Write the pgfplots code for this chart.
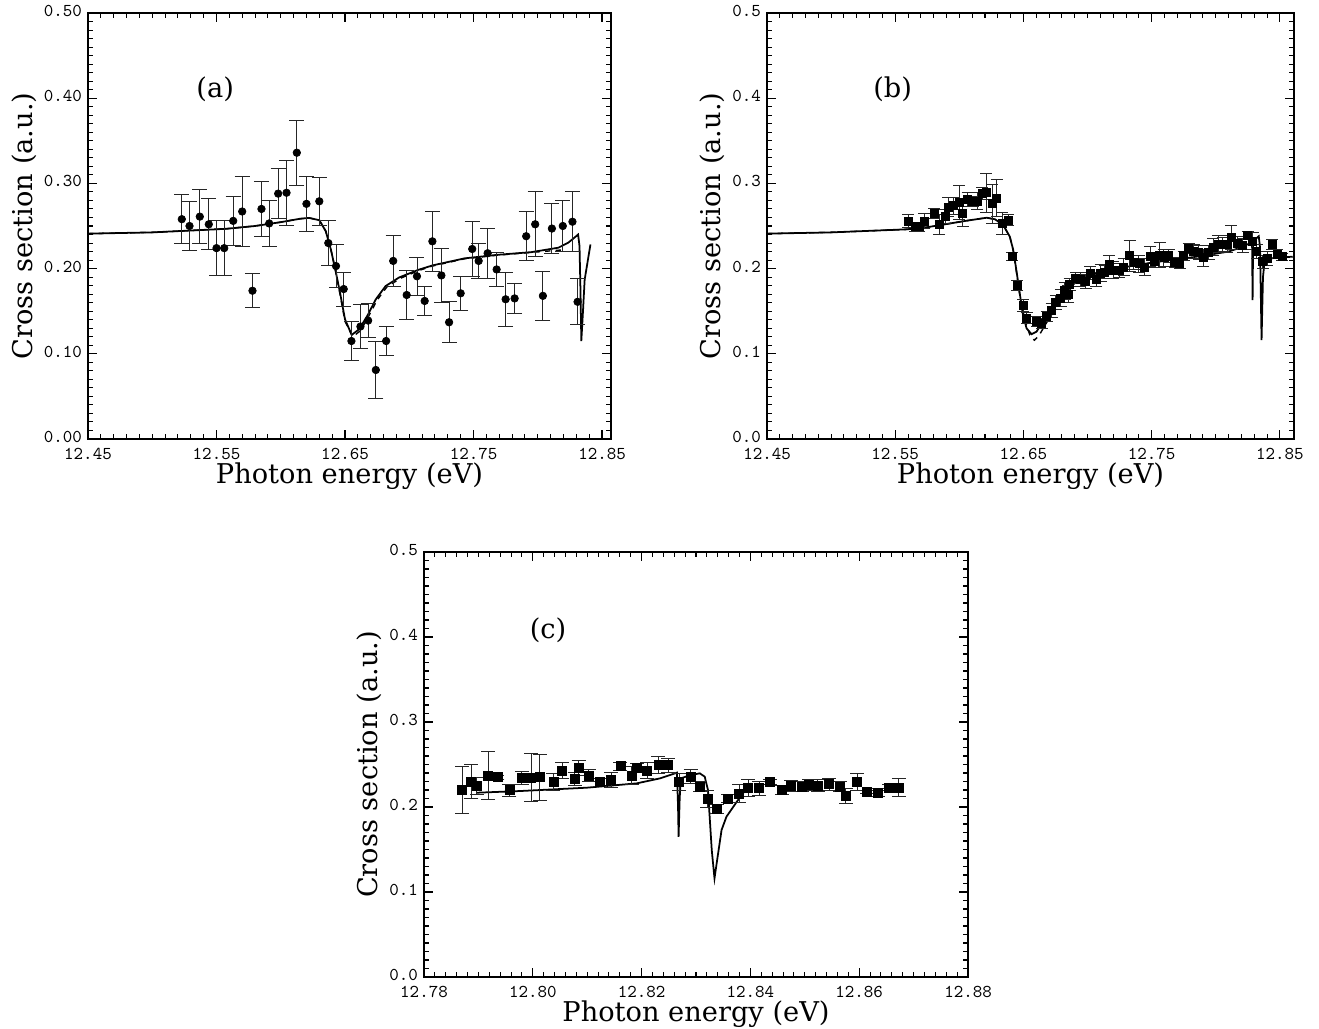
\documentclass[border=0pt]{standalone}
\usepackage{fontspec}
\usepackage{pgfplots}
\pgfplotsset{compat=1.18}

\newfontfamily\lblserif{DejaVu Serif}
\newcommand\lblfont{\fontsize{15.5}{18}\selectfont\lblserif}
\newcommand\tickfont{\fontsize{10.3}{12}\selectfont\ttfamily\addfontfeatures{FakeBold=2.5}}
\newcommand\panelfont{\fontsize{15.5}{18}\selectfont\lblserif}

\pgfplotsset{
  panel/.style={
    scale only axis,
    anchor=south west,
    ymin=0, ymax=0.5,
    minor y tick num=9,
    tick align=inside,
    xtick pos=both, ytick pos=both,
    xticklabel pos=lower, yticklabel pos=left,
    major tick length=0.18cm,
    minor tick length=0.1cm,
    axis line style={line width=0.9pt},
    every tick/.style={black, line width=0.6pt},
    tick label style={font=\tickfont, inner sep=0.5pt},
    xticklabel style={yshift=-0.16cm},
    yticklabel style={xshift=-0.1cm, yshift=0.04cm},
    label style={font=\lblfont},
    xlabel style={yshift=0.08cm},
    xlabel={Photon energy (eV)},
    ylabel={Cross section (a.u.)},
    scaled x ticks=false, scaled y ticks=false,
    xticklabel style={/pgf/number format/.cd, fixed, fixed zerofill, precision=2},
    /pgf/number format/assume math mode=true,
  },
  curve/.style={black, line width=1pt, no marks},
  dcurve/.style={black, line width=0.8pt, dashed, no marks},
  pts/.style={only marks, black,
    error bars/y dir=both, error bars/y explicit,
    error bars/error bar style={line width=0.5pt, black!85},
    error bars/error mark options={rotate=90, line width=0.5pt, black!85, mark size=#1}},
}

\begin{document}
\begin{tikzpicture}
\path[use as bounding box] (0,0) rectangle (26.38cm,20.58cm);

% ---------------- (a)
\begin{axis}[panel, at={(1.76cm,11.80cm)}, width=10.46cm, height=8.52cm,
  xmin=12.45, xmax=12.857,
  xtick={12.45,12.55,12.65,12.75,12.85}, minor x tick num=9,
  ytick={0,0.1,0.2,0.3,0.4,0.5},
  yticklabel style={/pgf/number format/.cd, fixed, fixed zerofill, precision=2}]
\addplot[curve] coordinates {
(12.45,0.241) (12.50,0.2425) (12.5575,0.2467) (12.58,0.250) (12.60,0.2545)
(12.615,0.2585) (12.622,0.2595) (12.63,0.2568) (12.635,0.244) (12.639,0.2225)
(12.643,0.195) (12.6466,0.168) (12.650,0.1405) (12.6552,0.1222) (12.661,0.1288)
(12.6673,0.1444) (12.674,0.164) (12.6816,0.1795) (12.692,0.1895) (12.707,0.1985)
(12.718,0.2037) (12.743,0.212) (12.769,0.2162) (12.795,0.2193) (12.816,0.2245)
(12.8236,0.2303) (12.8283,0.236) (12.8314,0.240) (12.8325,0.2263) (12.8333,0.17)
(12.8339,0.115) (12.8352,0.150) (12.8365,0.187) (12.841,0.2283)};
\addplot[dcurve] coordinates {
(12.45,0.241) (12.50,0.2425) (12.5575,0.2467) (12.58,0.250) (12.60,0.2545)
(12.615,0.2585) (12.622,0.2595) (12.63,0.2568) (12.635,0.244) (12.639,0.2225)
(12.643,0.195) (12.6466,0.166) (12.650,0.138) (12.656,0.120) (12.662,0.127)
(12.668,0.143) (12.675,0.163) (12.6826,0.1785) (12.693,0.1885) (12.707,0.1975)
(12.718,0.2030) (12.743,0.2115) (12.769,0.2158) (12.795,0.2190) (12.82,0.2220)};
\addplot[pts=0.15cm, mark=*, mark size=0.075cm] coordinates {
(12.523,0.258) +- (0,0.029)
(12.529,0.250) +- (0,0.029)
(12.537,0.261) +- (0,0.032)
(12.544,0.252) +- (0,0.030)
(12.550,0.224) +- (0,0.032)
(12.556,0.224) +- (0,0.032)
(12.563,0.256) +- (0,0.029)
(12.570,0.267) +- (0,0.041)
(12.578,0.174) +- (0,0.020)
(12.585,0.270) +- (0,0.032)
(12.591,0.253) +- (0,0.027)
(12.598,0.288) +- (0,0.029)
(12.6045,0.289) +- (0,0.038)
(12.6125,0.336) +- (0,0.038)
(12.620,0.276) +- (0,0.032)
(12.630,0.279) +- (0,0.028)
(12.637,0.230) +- (0,0.026)
(12.643,0.203) +- (0,0.025)
(12.649,0.176) +- (0,0.020)
(12.655,0.115) +- (0,0.023)
(12.662,0.132) +- (0,0.026)
(12.668,0.139) +- (0,0.020)
(12.674,0.081) +- (0,0.033)
(12.682,0.115) +- (0,0.017)
(12.6875,0.209) +- (0,0.030)
(12.698,0.169) +- (0,0.029)
(12.706,0.191) +- (0,0.022)
(12.712,0.162) +- (0,0.017)
(12.718,0.232) +- (0,0.035)
(12.725,0.192) +- (0,0.032)
(12.731,0.137) +- (0,0.024)
(12.740,0.171) +- (0,0.020)
(12.749,0.223) +- (0,0.032)
(12.754,0.209) +- (0,0.020)
(12.761,0.218) +- (0,0.029)
(12.768,0.199) +- (0,0.020)
(12.775,0.164) +- (0,0.032)
(12.782,0.165) +- (0,0.018)
(12.791,0.238) +- (0,0.029)
(12.798,0.252) +- (0,0.038)
(12.804,0.168) +- (0,0.029)
(12.811,0.247) +- (0,0.029)
(12.8195,0.250) +- (0,0.030)
(12.827,0.255) +- (0,0.035)
(12.831,0.161) +- (0,0.027)};
\node[font=\panelfont] at (axis cs:12.549,0.41) {(a)};
\end{axis}

% ---------------- (b)
\begin{axis}[panel, at={(15.34cm,11.80cm)}, width=10.54cm, height=8.52cm,
  xmin=12.45, xmax=12.861,
  xtick={12.45,12.55,12.65,12.75,12.85}, minor x tick num=9,
  ytick={0,0.1,0.2,0.3,0.4,0.5},
  yticklabel style={/pgf/number format/.cd, fixed, fixed zerofill, precision=1}]
\addplot[curve] coordinates {
(12.45,0.241) (12.50,0.2425) (12.5593,0.2461) (12.5746,0.2485) (12.59,0.2523)
(12.6057,0.2562) (12.6213,0.2597) (12.6278,0.2579) (12.6342,0.2512) (12.6394,0.2374)
(12.642,0.222) (12.6445,0.198) (12.647,0.172) (12.6495,0.147) (12.6524,0.130)
(12.6563,0.123) (12.6602,0.126) (12.6653,0.1377) (12.6731,0.1553) (12.6835,0.1760)
(12.695,0.188) (12.71,0.196) (12.73,0.202) (12.75,0.207) (12.77,0.211)
(12.79,0.215) (12.81,0.220) (12.82,0.225) (12.8283,0.231) (12.8287,0.163)
(12.8291,0.231) (12.832,0.236) (12.8335,0.238) (12.8345,0.225) (12.8357,0.116)
(12.8368,0.190) (12.838,0.208) (12.842,0.212) (12.86,0.214)};
\addplot[dcurve] coordinates {
(12.45,0.241) (12.50,0.2425) (12.5593,0.2461) (12.5746,0.2485) (12.59,0.2523)
(12.6057,0.2562) (12.6213,0.2597) (12.6278,0.2579) (12.6342,0.2512) (12.6394,0.2374)
(12.642,0.221) (12.6445,0.196) (12.647,0.170) (12.651,0.140) (12.655,0.122)
(12.6585,0.116) (12.662,0.121) (12.667,0.134) (12.675,0.153) (12.685,0.174)
(12.695,0.187) (12.71,0.195) (12.73,0.201)};
\addplot[pts=0.12cm, mark=square*, mark size=0.08cm] coordinates {
(12.5603,0.256) +- (0,0.008)
(12.5655,0.249) +- (0,0.005)
(12.5686,0.249) +- (0,0.005)
(12.5728,0.256) +- (0,0.009)
(12.5805,0.265) +- (0,0.006)
(12.5842,0.252) +- (0,0.012)
(12.5889,0.261) +- (0,0.008)
(12.5912,0.272) +- (0,0.011)
(12.5956,0.274) +- (0,0.010)
(12.5998,0.278) +- (0,0.020)
(12.6026,0.265) +- (0,0.015)
(12.6065,0.281) +- (0,0.008)
(12.6104,0.279) +- (0,0.006)
(12.614,0.279) +- (0,0.010)
(12.6179,0.288) +- (0,0.007)
(12.621,0.289) +- (0,0.023)
(12.6257,0.276) +- (0,0.023)
(12.6291,0.283) +- (0,0.022)
(12.6334,0.253) +- (0,0.013)
(12.6381,0.257) +- (0,0.006)
(12.6410,0.214) +- (0,0.005)
(12.6452,0.180) +- (0,0.006)
(12.6498,0.157) +- (0,0.007)
(12.6524,0.142) +- (0,0.006)
(12.6602,0.138) +- (0,0.006)
(12.6641,0.136) +- (0,0.006)
(12.668,0.144) +- (0,0.006)
(12.6719,0.151) +- (0,0.008)
(12.6752,0.160) +- (0,0.008)
(12.6791,0.165) +- (0,0.010)
(12.6822,0.174) +- (0,0.010)
(12.6848,0.170) +- (0,0.010)
(12.6861,0.181) +- (0,0.007)
(12.6908,0.189) +- (0,0.006)
(12.6944,0.187) +- (0,0.008)
(12.6985,0.185) +- (0,0.008)
(12.7022,0.195) +- (0,0.008)
(12.7069,0.187) +- (0,0.008)
(12.7102,0.195) +- (0,0.010)
(12.7133,0.196) +- (0,0.008)
(12.7167,0.205) +- (0,0.010)
(12.7198,0.198) +- (0,0.010)
(12.7245,0.198) +- (0,0.008)
(12.7281,0.202) +- (0,0.010)
(12.7328,0.215) +- (0,0.018)
(12.7361,0.207) +- (0,0.008)
(12.7400,0.206) +- (0,0.010)
(12.7444,0.202) +- (0,0.010)
(12.7489,0.214) +- (0,0.012)
(12.7522,0.209) +- (0,0.008)
(12.7561,0.216) +- (0,0.015)
(12.7595,0.213) +- (0,0.010)
(12.7633,0.215) +- (0,0.008)
(12.7678,0.207) +- (0,0.006)
(12.7717,0.206) +- (0,0.006)
(12.7750,0.215) +- (0,0.005)
(12.7789,0.224) +- (0,0.006)
(12.7828,0.220) +- (0,0.008)
(12.7867,0.219) +- (0,0.008)
(12.7903,0.213) +- (0,0.010)
(12.7945,0.219) +- (0,0.008)
(12.7981,0.225) +- (0,0.010)
(12.8018,0.229) +- (0,0.010)
(12.8053,0.228) +- (0,0.008)
(12.8088,0.229) +- (0,0.010)
(12.8121,0.237) +- (0,0.014)
(12.8170,0.230) +- (0,0.008)
(12.8209,0.227) +- (0,0.008)
(12.8248,0.239) +- (0,0.005)
(12.8287,0.232) +- (0,0.010)
(12.8318,0.220) +- (0,0.008)
(12.8365,0.208) +- (0,0.008)
(12.8399,0.212) +- (0,0.008)
(12.8442,0.228) +- (0,0.006)
(12.8477,0.217) +- (0,0.005)
(12.8516,0.214) +- (0,0.004)};
\node[font=\panelfont] at (axis cs:12.548,0.41) {(b)};
\end{axis}

% ---------------- (c)
\begin{axis}[panel, at={(8.48cm,1.04cm)}, width=10.88cm, height=8.50cm,
  xmin=12.78, xmax=12.88,
  xtick={12.78,12.80,12.82,12.84,12.86,12.88}, minor x tick num=9,
  ytick={0,0.1,0.2,0.3,0.4,0.5},
  yticklabel style={/pgf/number format/.cd, fixed, fixed zerofill, precision=1}]
\addplot[curve] coordinates {
(12.7897,0.2168) (12.7977,0.2188) (12.8099,0.2227) (12.8191,0.2278) (12.8234,0.2337)
(12.8258,0.2388) (12.8265,0.2404) (12.8267,0.200) (12.8268,0.165) (12.8270,0.210)
(12.8272,0.2337) (12.8290,0.2376) (12.8307,0.2396) (12.8316,0.2357) (12.8322,0.220)
(12.8329,0.149) (12.8334,0.1161) (12.8338,0.1338) (12.8347,0.173) (12.8356,0.1886)
(12.8375,0.2062) (12.8393,0.222) (12.8402,0.2278)};
\addplot[pts=0.14cm, mark=square*, mark size=0.09cm] coordinates {
(12.7870,0.220) +- (0,0.028)
(12.7887,0.230) +- (0,0.020)
(12.7897,0.225) +- (0,0.010)
(12.7918,0.237) +- (0,0.028)
(12.7935,0.235) +- (0,0.002)
(12.7957,0.220) +- (0,0.007)
(12.7980,0.234) +- (0,0.008)
(12.7997,0.2345) +- (0,0.028)
(12.8013,0.235) +- (0,0.027)
(12.8038,0.230) +- (0,0.010)
(12.8054,0.243) +- (0,0.009)
(12.8077,0.233) +- (0,0.0075)
(12.8084,0.246) +- (0,0.0085)
(12.8103,0.237) +- (0,0.007)
(12.8124,0.229) +- (0,0.005)
(12.8144,0.232) +- (0,0.009)
(12.8161,0.248) +- (0,0.005)
(12.8182,0.237) +- (0,0.011)
(12.8192,0.246) +- (0,0.005)
(12.8210,0.243) +- (0,0.009)
(12.8231,0.250) +- (0,0.010)
(12.8249,0.249) +- (0,0.008)
(12.8269,0.229) +- (0,0.010)
(12.8290,0.236) +- (0,0.008)
(12.8307,0.224) +- (0,0.006)
(12.8321,0.209) +- (0,0.010)
(12.8338,0.198) +- (0,0.0055)
(12.8359,0.210) +- (0,0.005)
(12.8379,0.216) +- (0,0.0105)
(12.8396,0.222) +- (0,0.010)
(12.8416,0.222) +- (0,0.008)
(12.8436,0.229) +- (0,0.003)
(12.8458,0.220) +- (0,0.005)
(12.8475,0.225) +- (0,0.0065)
(12.8494,0.224) +- (0,0.006)
(12.8508,0.226) +- (0,0.007)
(12.8524,0.225) +- (0,0.007)
(12.8545,0.227) +- (0,0.007)
(12.8565,0.224) +- (0,0.006)
(12.8575,0.213) +- (0,0.0085)
(12.8596,0.229) +- (0,0.010)
(12.8614,0.218) +- (0,0.002)
(12.8635,0.217) +- (0,0.005)
(12.8655,0.223) +- (0,0.003)
(12.8673,0.223) +- (0,0.011)};
\node[font=\panelfont] at (axis cs:12.8028,0.408) {(c)};
\end{axis}
\end{tikzpicture}
\end{document}
